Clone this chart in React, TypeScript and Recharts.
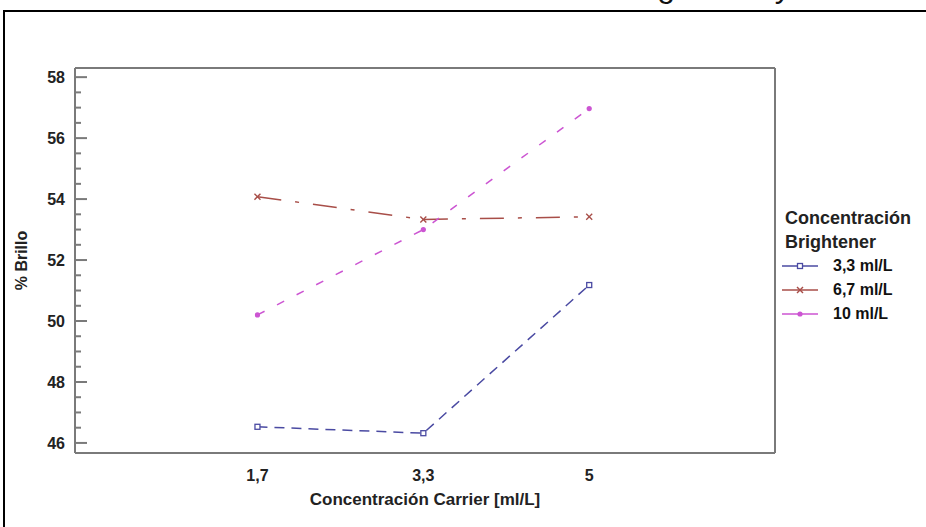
import { LineChart, Line, XAxis, YAxis, Legend, ReferenceLine } from "recharts";

const categories = ["1,7", "3,3", "5"];
const brillo33 = [46.53, 46.32, 51.18];
const brillo67 = [54.08, 53.33, 53.42];
const brillo10 = [50.2, 53.0, 56.97];

const yTicks = [
  46, 46.5, 47, 47.5, 48, 48.5, 49, 49.5, 50, 50.5, 51, 51.5, 52, 52.5, 53, 53.5, 54, 54.5, 55,
  55.5, 56, 56.5, 57, 57.5, 58,
];
const yLabels = [46, 48, 50, 52, 54, 56, 58];
const Y_DOMAIN: [number, number] = [45.67, 58.3];

const SERIES = [
  { key: "b33", name: "3,3 ml/L", color: "#4a4aa2", dash: "10 7", marker: "square" },
  { key: "b67", name: "6,7 ml/L", color: "#a84e48", dash: "24 14 4 14", marker: "x" },
  { key: "b10", name: "10 ml/L", color: "#cc55d2", dash: "8 14", marker: "circle" },
];

const data = categories.map((c, i) => ({
  x: i + 1,
  label: c,
  b33: brillo33[i],
  b67: brillo67[i],
  b10: brillo10[i],
}));

const FONT = "'Liberation Sans', Arial, sans-serif";
const AXIS = "#7a7a7a";

function Marker({ cx, cy, shape, color }: any) {
  if (cx == null || cy == null) return null;
  if (shape === "square") {
    return <rect x={cx - 2.5} y={cy - 2.5} width={5} height={5} fill="#fff" stroke={color} strokeWidth={1.3} />;
  }
  if (shape === "x") {
    return (
      <g stroke={color} strokeWidth={1.4}>
        <line x1={cx - 3} y1={cy - 3} x2={cx + 3} y2={cy + 3} />
        <line x1={cx - 3} y1={cy + 3} x2={cx + 3} y2={cy - 3} />
      </g>
    );
  }
  return <circle cx={cx} cy={cy} r={2.6} fill={color} />;
}

const makeYTick = (side: "left" | "right") => (props: any) => {
  const { x, y, payload } = props;
  const major = yLabels.includes(payload.value);
  const len = major ? 12 : 6;
  const dir = side === "left" ? 1 : -1;
  return (
    <g>
      <line x1={x} x2={x + dir * len} y1={y} y2={y} stroke={AXIS} strokeWidth={2} />
      {side === "left" && major && (
        <text
          x={x - 10}
          y={y}
          dy="0.36em"
          textAnchor="end"
          fontFamily={FONT}
          fontWeight="bold"
          fontSize={16}
          fill="#222"
        >
          {payload.value}
        </text>
      )}
    </g>
  );
};

function LegendBox() {
  return (
    <div style={{ fontFamily: FONT, fontWeight: "bold", color: "#222", lineHeight: "24px", textAlign: "left" }}>
      <div style={{ fontSize: 18, paddingLeft: 3 }}>Concentración</div>
      <div style={{ fontSize: 18, paddingLeft: 3 }}>Brightener</div>
      {SERIES.map((s) => (
        <div key={s.key} style={{ display: "flex", alignItems: "center", height: 24, fontSize: 16 }}>
          <svg width={36} height={10} style={{ marginRight: 15 }}>
            <line x1={0} x2={36} y1={5} y2={5} stroke={s.color} strokeWidth={1.5} />
            <Marker cx={18} cy={5} shape={s.marker} color={s.color} />
          </svg>
          <span style={{ color: "#111" }}>{s.name}</span>
        </div>
      ))}
    </div>
  );
}

export default function App() {
  return (
    <div
      style={{
        position: "absolute",
        left: 0,
        top: 0,
        width: 926,
        height: 527,
        overflow: "hidden",
        background: "#fff",
      }}
    >
      <div
        style={{
          position: "absolute",
          left: -8,
          top: -30,
          fontFamily: FONT,
          fontSize: 32,
          lineHeight: "32px",
          color: "#111",
          whiteSpace: "nowrap",
        }}
      >
        Gráfica de Interacción de Concentración de Brightener y Carrier
      </div>
      <div
        style={{
          position: "absolute",
          left: 3,
          top: 10,
          width: 960,
          height: 560,
          border: "2px solid #000",
        }}
      />
      <div style={{ position: "absolute", left: 0, top: 0 }}>
        <LineChart width={926} height={527} data={data} margin={{ top: 68, right: 150, bottom: 14, left: 0 }}>
          <XAxis
            dataKey="x"
            type="number"
            domain={[-0.1, 4.12]}
            ticks={[1, 2, 3]}
            tickFormatter={(v: number) => categories[v - 1]}
            height={60}
            axisLine={{ stroke: AXIS, strokeWidth: 2 }}
            tickLine={false}
            tickMargin={11}
            tick={{ fontFamily: FONT, fontWeight: "bold", fontSize: 16, fill: "#222" }}
            label={{
              value: "Concentración Carrier [ml/L]",
              position: "insideBottom",
              offset: 8,
              style: { fontFamily: FONT, fontWeight: "bold", fontSize: 17, fill: "#222" },
            }}
          />
          <YAxis
            yAxisId="left"
            type="number"
            domain={Y_DOMAIN}
            ticks={yTicks}
            interval={0}
            width={75}
            tickSize={0}
            tickMargin={0}
            tickLine={false}
            axisLine={{ stroke: AXIS, strokeWidth: 2 }}
            tick={makeYTick("left")}
            label={{
              value: "% Brillo",
              angle: -90,
              position: "insideLeft",
              offset: 21,
              style: { textAnchor: "middle", fontFamily: FONT, fontWeight: "bold", fontSize: 16, fill: "#222" },
            }}
          />
          <YAxis
            yAxisId="right"
            orientation="right"
            type="number"
            domain={Y_DOMAIN}
            ticks={yTicks}
            interval={0}
            width={1}
            tickSize={0}
            tickMargin={0}
            tickLine={false}
            axisLine={{ stroke: AXIS, strokeWidth: 2 }}
            tick={makeYTick("right")}
          />
          <ReferenceLine yAxisId="left" y={Y_DOMAIN[1]} stroke={AXIS} strokeWidth={2} />
          <Legend
            layout="horizontal"
            verticalAlign="middle"
            align="center"
            content={() => <LegendBox />}
            wrapperStyle={{ position: "absolute", left: 782, top: 206, width: 144 }}
          />
          {SERIES.map((s) => (
            <Line
              key={s.key}
              yAxisId="left"
              type="linear"
              dataKey={s.key}
              name={s.name}
              stroke={s.color}
              strokeWidth={1.5}
              strokeDasharray={s.dash}
              isAnimationActive={false}
              dot={(p: any) => <Marker key={`${s.key}-${p.index}`} cx={p.cx} cy={p.cy} shape={s.marker} color={s.color} />}
              activeDot={false}
            />
          ))}
        </LineChart>
      </div>
    </div>
  );
}
